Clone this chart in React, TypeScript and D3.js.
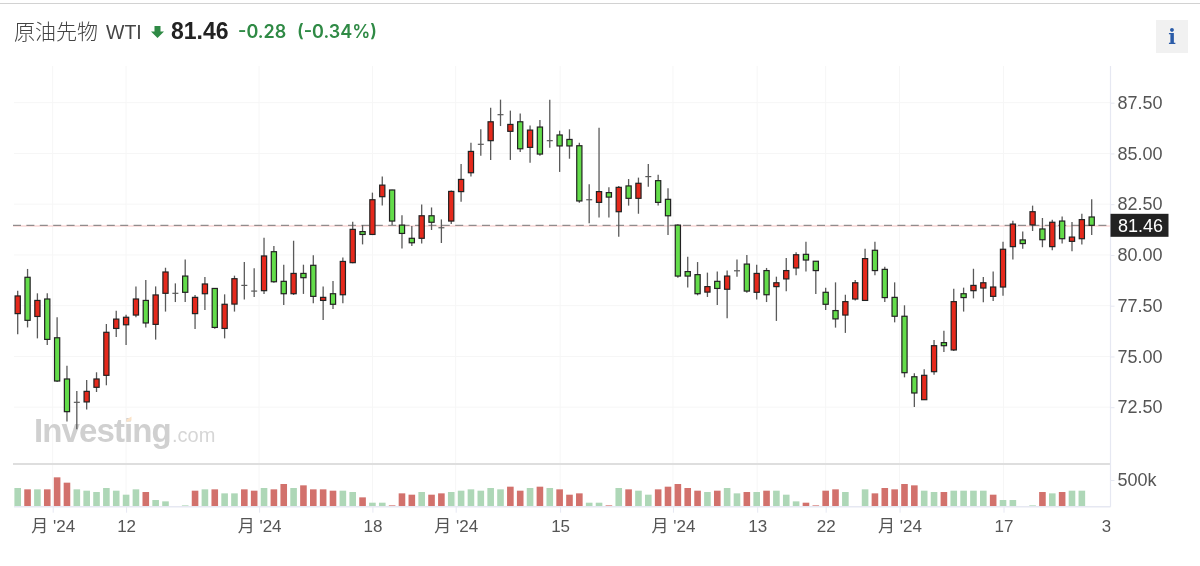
// WTI candlestick chart with volume panel
import { useEffect, useRef } from 'react';
import * as d3 from 'd3';

const opens = [
  77.11, 78.90, 76.97, 77.83, 75.92, 73.89, 72.74, 72.76, 73.48, 74.07,
  76.38, 76.56, 77.04, 77.76, 76.58, 78.11, 78.11, 78.96, 77.11, 78.09,
  78.35, 76.38, 77.58, 78.50, 78.22, 78.24, 80.16, 78.70, 78.09, 79.09,
  79.49, 77.76, 78.09, 78.04, 79.62, 81.15, 81.01, 82.87, 83.20, 81.47,
  80.82, 80.82, 81.93, 81.34, 81.67, 83.12, 84.05, 85.45, 85.63, 86.91,
  86.09, 86.56, 85.30, 86.30, 85.63, 85.91, 85.69, 85.38, 82.72, 82.59,
  83.07, 82.13, 83.40, 82.79, 83.86, 83.66, 82.74, 81.47, 79.18, 79.03,
  78.17, 78.70, 78.31, 79.22, 79.55, 78.16, 79.23, 78.44, 78.82, 79.36,
  80.03, 79.69, 78.16, 77.26, 77.04, 77.83, 77.76, 80.23, 79.29, 77.91,
  76.98, 74.00, 72.87, 74.25, 75.68, 75.32, 78.09, 78.24, 78.37, 77.96,
  78.42, 80.41, 80.74, 81.48, 81.28, 80.41, 81.67, 80.67, 80.80, 81.87,
];
const highs = [
  78.24, 79.31, 78.11, 78.11, 76.93, 74.54, 73.30, 73.84, 74.22, 76.60,
  77.25, 77.06, 78.45, 78.76, 78.45, 79.37, 78.60, 79.78, 78.03, 78.91,
  78.37, 78.06, 78.98, 79.65, 79.34, 80.85, 80.44, 79.52, 80.70, 79.52,
  79.98, 78.44, 78.72, 79.88, 81.64, 81.47, 83.07, 83.86, 83.21, 81.95,
  81.43, 82.49, 82.34, 81.75, 83.17, 84.48, 85.53, 86.19, 87.25, 87.65,
  87.11, 86.97, 86.38, 86.65, 87.65, 86.12, 86.19, 85.53, 83.48, 86.27,
  83.33, 83.40, 83.74, 83.81, 84.48, 83.95, 83.28, 81.51, 79.91, 79.65,
  79.13, 79.18, 79.24, 79.78, 80.00, 79.52, 79.36, 78.93, 79.85, 80.13,
  80.65, 79.70, 78.39, 78.65, 78.04, 78.77, 80.31, 80.65, 79.42, 78.65,
  77.52, 74.17, 74.37, 75.81, 76.27, 78.34, 78.39, 79.32, 78.91, 79.19,
  80.65, 81.69, 81.15, 82.43, 81.82, 81.74, 81.89, 81.62, 82.03, 82.74,
];
const lows = [
  76.09, 76.43, 75.89, 75.56, 73.74, 71.79, 71.41, 72.39, 73.25, 73.58,
  75.96, 75.56, 76.93, 76.42, 75.83, 77.21, 77.68, 77.68, 76.35, 77.29,
  76.37, 75.89, 77.21, 77.81, 77.93, 78.08, 78.63, 77.53, 78.03, 78.08,
  77.62, 76.79, 77.34, 77.62, 79.59, 80.52, 80.98, 82.43, 81.47, 80.32,
  80.44, 80.57, 81.23, 80.59, 81.52, 82.62, 83.87, 84.89, 84.68, 86.35,
  84.68, 85.07, 84.54, 84.89, 85.28, 84.09, 84.74, 82.57, 81.56, 81.84,
  81.84, 80.90, 82.43, 82.03, 83.36, 82.43, 80.98, 78.88, 78.40, 78.01,
  77.93, 77.53, 76.88, 78.93, 78.14, 77.81, 77.68, 76.75, 78.21, 79.00,
  79.19, 78.08, 77.29, 76.42, 76.16, 77.76, 77.75, 79.00, 77.68, 76.68,
  73.97, 72.51, 72.85, 74.10, 75.22, 75.27, 77.21, 77.86, 77.67, 77.73,
  77.99, 79.78, 80.31, 81.18, 80.38, 80.23, 80.57, 80.18, 80.52, 80.98,
];
const closes = [
  77.98, 76.78, 77.76, 75.84, 73.79, 72.28, 72.74, 73.28, 73.89, 76.19,
  76.84, 76.93, 77.83, 76.65, 78.03, 79.16, 78.11, 78.16, 77.91, 78.57,
  76.43, 77.57, 78.83, 78.50, 78.22, 79.95, 78.68, 78.09, 79.09, 78.88,
  77.96, 77.91, 77.57, 79.68, 81.26, 81.01, 82.72, 83.44, 81.67, 81.06,
  80.60, 81.93, 81.61, 81.34, 83.13, 83.72, 85.10, 85.45, 86.56, 86.91,
  86.43, 85.23, 86.15, 84.97, 85.63, 85.37, 85.37, 82.66, 82.72, 83.12,
  82.85, 83.33, 82.79, 83.53, 83.86, 82.59, 81.93, 78.96, 78.96, 78.09,
  78.44, 78.35, 78.96, 79.22, 78.22, 79.09, 78.04, 78.63, 79.23, 80.01,
  79.75, 79.23, 77.57, 76.85, 77.70, 78.63, 79.82, 79.23, 77.90, 76.98,
  74.20, 73.20, 74.07, 75.53, 75.53, 77.70, 77.90, 78.50, 78.63, 78.42,
  80.28, 81.52, 80.56, 82.13, 80.75, 81.61, 80.80, 80.88, 81.74, 81.46,
];
// volume in thousands
const volumes = [
  350, 325, 325, 325, 550, 450, 325, 300, 275, 350,
  300, 225, 325, 275, 125, 100, 0, 25, 300, 325,
  325, 250, 250, 325, 300, 350, 325, 425, 350, 400,
  325, 325, 300, 300, 275, 175, 75, 75, 25, 250,
  225, 275, 225, 250, 275, 300, 325, 300, 350, 325,
  375, 300, 350, 375, 350, 325, 225, 250, 75, 75,
  25, 350, 325, 300, 225, 325, 375, 425, 350, 300,
  275, 300, 350, 250, 275, 275, 300, 300, 225, 100,
  75, 25, 300, 325, 275, 0, 325, 250, 350, 325,
  425, 400, 300, 275, 275, 300, 300, 300, 300, 225,
  125, 125, 0, 25, 275, 250, 275, 300, 300, 0,
];
const volumeColors = [
  'g', 'r', 'g', 'r', 'r', 'r', 'g', 'g', 'g', 'g',
  'g', 'g', 'g', 'r', 'g', 'g', 'g', 'g', 'r', 'g',
  'r', 'g', 'g', 'r', 'r', 'g', 'r', 'r', 'g', 'r',
  'r', 'r', 'r', 'g', 'g', 'r', 'g', 'g', 'r', 'r',
  'r', 'g', 'r', 'r', 'g', 'g', 'g', 'g', 'g', 'g',
  'r', 'r', 'g', 'r', 'g', 'r', 'r', 'r', 'g', 'g',
  'r', 'g', 'r', 'g', 'g', 'r', 'r', 'r', 'r', 'r',
  'g', 'r', 'g', 'g', 'r', 'g', 'r', 'g', 'g', 'g',
  'r', 'r', 'r', 'r', 'g', 'g', 'g', 'r', 'r', 'r',
  'r', 'r', 'g', 'g', 'r', 'g', 'g', 'g', 'g', 'r',
  'g', 'g', 'g', 'g', 'r', 'g', 'r', 'g', 'g', 'g',
];

const priceTicks = [72.5, 75, 77.5, 80, 82.5, 85, 87.5];
const volumeTicks = [500];
const lastPrice = 81.46;
// positions on the candle index, month breaks fall between candles
const timeTicks = [3.55, 11, 24.5, 36, 44.45, 55.05, 66.5, 75.05, 82, 89.5, 100.05, 110.45];
const timeLabels = ["月 '24", '12', "月 '24", '18', "月 '24", '15', "月 '24", '13', '22', "月 '24", '17', '3'];

const FONT = '"Liberation Sans", "Noto Sans CJK JP", sans-serif';
const TEXT = '#555';
const GRID = '#f6f6f6';
const AXIS = '#e6e8f2';

export default function App() {
  const svgRef = useRef<SVGSVGElement | null>(null);

  useEffect(() => {
    if (!svgRef.current) return;
    const svg = d3.select(svgRef.current);
    svg.selectAll('*').remove();

    const left = 14, right = 1110.5, top = 66, sep = 464, bottom = 506.7;

    const x = d3.scaleLinear().domain([0, 109]).range([17.7, 1091.7]);
    const y = d3.scaleLinear().domain([72.5, 87.5]).range([407.2, 102.7]);
    const v = d3.scaleLinear().domain([0, 500]).range([bottom, 480]);

    // clip is read in the x axis group's own coordinates
    svg.append('clipPath').attr('id', 'xclip')
      .append('rect').attr('x', 0).attr('y', -5).attr('width', right).attr('height', 50);

    // top border of the widget
    svg.append('rect').attr('x', 0).attr('y', 3).attr('width', 1200).attr('height', 1).attr('fill', '#d2d2d2');

    // header
    const header = svg.append('g').attr('font-family', FONT);
    header.append('text').attr('x', 14).attr('y', 39).attr('font-size', 21)
      .attr('font-family', '"Noto Sans CJK JP", sans-serif').attr('font-weight', 300).attr('fill', '#444').text('原油先物');
    header.append('text').attr('x', 106).attr('y', 39).attr('font-size', 19.5).attr('fill', '#444').text('WTI');
    header.append('path').attr('d', 'M154.5 26h6v5.5h3.5l-6.5 6.5l-6.5-6.5h3.5z').attr('fill', '#2f8a45');
    header.append('text').attr('x', 171).attr('y', 39).attr('font-size', 23).attr('font-weight', 700).attr('fill', '#222').text('81.46');
    header.append('text').attr('x', 238).attr('y', 38).attr('font-size', 18).attr('font-weight', 600)
      .attr('font-family', 'Inter, sans-serif').attr('fill', '#2f8a45').text('-0.28');
    header.append('text').attr('x', 297).attr('y', 38).attr('font-size', 18).attr('font-weight', 600)
      .attr('font-family', 'Inter, sans-serif').attr('fill', '#2f8a45').text('(-0.34%)');

    // info button
    svg.append('rect').attr('x', 1156).attr('y', 20).attr('width', 32).attr('height', 33).attr('fill', '#f1f1f1');
    svg.append('text').attr('x', 1172).attr('y', 44).attr('text-anchor', 'middle').attr('font-size', 20)
      .attr('font-family', '"DejaVu Serif", serif').attr('font-weight', 700).attr('fill', '#2a5ba8').text('i');

    // grid
    svg.append('g').selectAll('line').data(priceTicks).join('line')
      .attr('x1', left).attr('x2', right).attr('y1', d => y(d)).attr('y2', d => y(d))
      .attr('stroke', GRID).attr('stroke-width', 1);
    svg.append('g').selectAll('line').data(timeTicks.slice(0, -1)).join('line')
      .attr('x1', d => x(d)).attr('x2', d => x(d)).attr('y1', top).attr('y2', bottom)
      .attr('stroke', GRID).attr('stroke-width', 1);

    // watermark goes under the candles
    const mark = svg.append('g').attr('font-family', FONT);
    mark.append('text').attr('x', 34).attr('y', 442).attr('font-size', 33).attr('font-weight', 700)
      .attr('letter-spacing', -0.9).attr('fill', '#d0d0d0').text('Investing');
    mark.append('text').attr('x', 172).attr('y', 442).attr('font-size', 20).attr('fill', '#d6d6d6').text('.com');
    mark.append('path').attr('d', 'M126.5 419.5l5-3v4l-5 1.5z').attr('fill', '#fbe3c8');

    // last price line
    svg.append('line').attr('x1', 13).attr('x2', right).attr('y1', y(lastPrice) + 0.7).attr('y2', y(lastPrice) + 0.7)
      .attr('stroke', '#f7c4c2').attr('stroke-width', 1.2);
    svg.append('line').attr('x1', 13).attr('x2', right).attr('y1', y(lastPrice)).attr('y2', y(lastPrice))
      .attr('stroke', '#777').attr('stroke-width', 1).attr('stroke-dasharray', '8 5.4');

    // candles
    const idx = d3.range(opens.length);
    const isDoji = (i: number) => Math.abs(opens[i] - closes[i]) < 0.03;
    svg.append('g').selectAll('line').data(idx).join('line')
      .attr('x1', i => x(i)).attr('x2', i => x(i))
      .attr('y1', i => y(highs[i])).attr('y2', i => y(lows[i]))
      .attr('stroke', '#5a5a5a').attr('stroke-width', 1.3);
    svg.append('g').selectAll('line').data(idx.filter(isDoji)).join('line')
      .attr('x1', i => x(i) - 3).attr('x2', i => x(i) + 3)
      .attr('y1', i => y(closes[i])).attr('y2', i => y(closes[i]))
      .attr('stroke', '#5a5a5a').attr('stroke-width', 1.2);
    svg.append('g').selectAll('rect').data(idx.filter(i => !isDoji(i))).join('rect')
      .attr('x', i => x(i) - 2.6)
      .attr('y', i => y(Math.max(opens[i], closes[i])))
      .attr('width', 5.2)
      .attr('height', i => Math.abs(y(opens[i]) - y(closes[i])))
      .attr('fill', i => (closes[i] > opens[i] ? '#e5291c' : '#63dc4a'))
      .attr('stroke', '#222').attr('stroke-width', 1.2);

    // volume panel
    svg.append('rect').attr('x', left - 1).attr('y', sep - 1).attr('width', right - left + 1).attr('height', 2).attr('fill', '#dedede');
    svg.append('g').selectAll('rect').data(idx.filter(i => volumes[i] > 0)).join('rect')
      .attr('x', i => x(i) - 3.3)
      .attr('y', i => v(volumes[i]))
      .attr('width', 6.6)
      .attr('height', i => bottom - v(volumes[i]))
      .attr('fill', i => (volumeColors[i] === 'r' ? '#d2716c' : '#aed7b7'));

    // axes
    const styleAxis = (size: number) => (g: d3.Selection<SVGGElement, unknown, null, undefined>) => {
      g.select('.domain').remove();
      g.selectAll('line').attr('stroke', AXIS);
      g.selectAll('text').attr('fill', TEXT).attr('font-family', FONT).attr('font-size', size);
    };
    svg.append('g').attr('transform', `translate(${right},0)`)
      .call(d3.axisRight(y).tickValues(priceTicks).tickFormat(d3.format('.2f')).tickSize(4).tickPadding(3))
      .call(styleAxis(18));
    svg.append('g').attr('transform', `translate(${right},0)`)
      .call(d3.axisRight(v).tickValues(volumeTicks).tickFormat(d => `${d}k`).tickSize(4).tickPadding(3))
      .call(styleAxis(18));
    const xAxis = svg.append('g').attr('transform', `translate(0,${bottom})`).attr('clip-path', 'url(#xclip)')
      .call(d3.axisBottom(x).tickValues(timeTicks).tickFormat((_, i) => timeLabels[i]).tickSize(6).tickPadding(7))
      .call(styleAxis(17));
    xAxis.selectAll('.tick').filter((_, i) => i === timeTicks.length - 1).select('line').remove();

    svg.append('line').attr('x1', left).attr('x2', right).attr('y1', bottom).attr('y2', bottom).attr('stroke', AXIS).attr('stroke-width', 1.4);
    svg.append('line').attr('x1', right).attr('x2', right).attr('y1', top).attr('y2', bottom).attr('stroke', AXIS).attr('stroke-width', 1.2);

    // last price tag
    svg.append('rect').attr('x', right).attr('y', y(lastPrice) - 11.5).attr('width', 58).attr('height', 23).attr('fill', '#222');
    svg.append('text').attr('x', right + 7.5).attr('y', y(lastPrice) + 6.5).attr('font-family', FONT).attr('font-size', 18)
      .attr('fill', '#fff').text(lastPrice.toFixed(2));
  }, []);

  return (
    <svg ref={svgRef} width="1200" height="566" style={{ position: 'absolute', left: 0, top: 0, background: '#fff', filter: 'blur(0.35px)' }}></svg>
  );
}
